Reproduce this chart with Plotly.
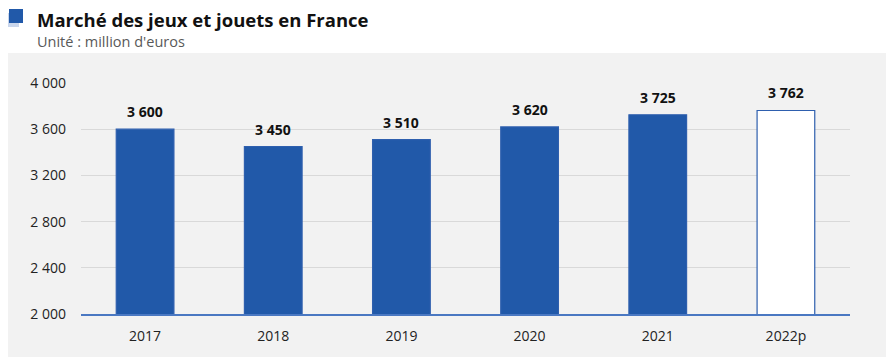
import plotly.graph_objects as go

years = ["2017", "2018", "2019", "2020", "2021", "2022p"]
values = [3600, 3450, 3510, 3620, 3725, 3762]
fill_colors = ["#2159a9", "#2159a9", "#2159a9", "#2159a9", "#2159a9", "#ffffff"]
tick_vals = [2000, 2400, 2800, 3200, 3600, 4000]

OFF = 8  # page body margin
W, H = 894 - OFF, 362 - OFF
# reference pixel positions
L_ref, R_ref, T_ref, B_ref = 81, 850, 83, 314
ml, mr, mt, mb = L_ref - OFF, (W + OFF) - R_ref, T_ref - OFF, (H + OFF) - B_ref
pw, ph = W - ml - mr, H - mt - mb

def px_x(x):
    return (x - OFF - ml) / pw

def px_y(y):
    return (H + OFF - mb - y) / ph

FONT = "Open Sans"

fig = go.Figure()
fig.add_trace(go.Bar(
    x=years, y=values,
    marker=dict(color=fill_colors, line=dict(color="#2e5fae", width=1.2)),
    width=0.45, hoverinfo="x+y",
))

annotations = [
    dict(x=i, y=v, xref="x", yref="y", text="<b>%s</b>" % f"{v:,}".replace(",", " "),
         showarrow=False, yanchor="bottom", yshift=6,
         font=dict(size=14, color="#111111", family=FONT))
    for i, v in enumerate(values)
]
annotations += [
    dict(text="<b>Marché des jeux et jouets en France</b>", xref="paper", yref="paper",
         x=px_x(35), y=px_y(19), xanchor="left", yanchor="middle", showarrow=False,
         font=dict(size=18.5, color="#111111", family=FONT)),
    dict(text="Unité : million d'euros", xref="paper", yref="paper",
         x=px_x(35), y=px_y(42), xanchor="left", yanchor="middle", showarrow=False,
         font=dict(size=14.5, color="#595959", family=FONT)),
]

shapes = [
    dict(type="rect", xref="paper", yref="paper", x0=px_x(2), x1=px_x(893), y0=px_y(53), y1=px_y(357),
         fillcolor="#f2f2f2", line=dict(width=0), layer="below"),
    dict(type="rect", xref="paper", yref="paper", x0=px_x(5), x1=px_x(19), y0=px_y(27), y1=px_y(13),
         fillcolor="#c9d6ec", line=dict(width=0), layer="below"),
    dict(type="rect", xref="paper", yref="paper", x0=px_x(9), x1=px_x(23), y0=px_y(23), y1=px_y(9),
         fillcolor="#2159a9", line=dict(width=0), layer="above"),
]

fig.update_layout(
    width=W, height=H,
    margin=dict(l=ml, r=mr, t=mt, b=mb),
    paper_bgcolor="#ffffff", plot_bgcolor="rgba(0,0,0,0)",
    separators=", ",
    showlegend=False,
    bargap=0.55,
    font=dict(family=FONT, size=14, color="#222222"),
    shapes=shapes,
    annotations=annotations,
    xaxis=dict(type="category", categoryorder="array", categoryarray=years,
               range=[-0.5, len(years) - 0.5],
               showgrid=False, showline=True, linecolor="#4a78c2", linewidth=1.5,
               ticks="", ticklabelstandoff=8, tickfont=dict(size=14, color="#222222", family=FONT)),
    yaxis=dict(range=[2000, 4000], tickvals=tick_vals, tickformat=",.0f",
               showgrid=True, gridcolor="#d9d9d9", gridwidth=1, zeroline=False,
               showline=False, ticks="", ticklabelstandoff=14,
               tickfont=dict(size=14, color="#222222", family=FONT)),
)

fig.write_html("out.html")
